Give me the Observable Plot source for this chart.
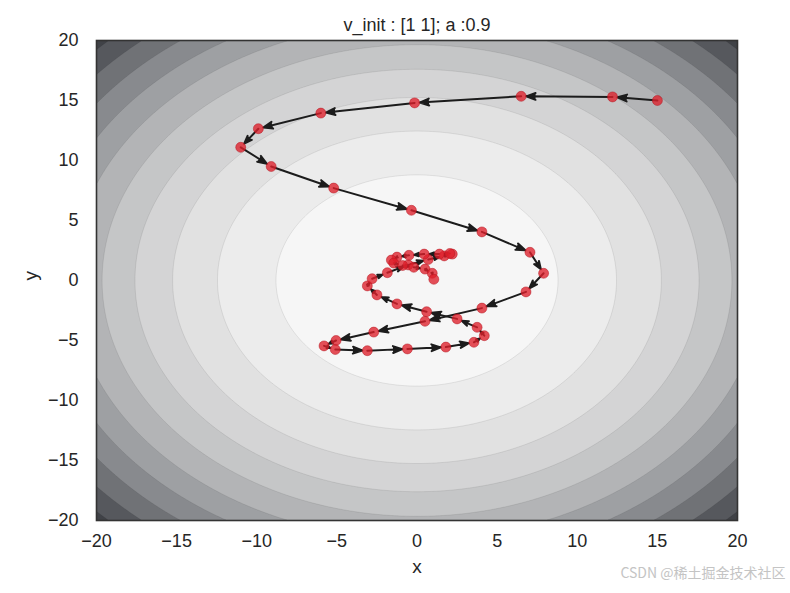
<!DOCTYPE html>
<html>
<head>
<meta charset="utf-8">
<script src="https://cdn.jsdelivr.net/npm/d3@7"></script>
<script src="https://cdn.jsdelivr.net/npm/@observablehq/plot@0.6"></script>
<style>
  body { margin: 0; background: #fff; }
</style>
</head>
<body>
<div id="chart"></div>
<script>
// ---- data ----
const title = "v_init : [1 1]; a :0.9";
const xLabel = "x";
const yLabel = "y";
const watermark = "CSDN @稀土掘金技术社区";
const xTicks = [-20, -15, -10, -5, 0, 5, 10, 15, 20];
const yTicks = [-20, -15, -10, -5, 0, 5, 10, 15, 20];

// trajectory of the iterates (in order)
const pathX = [15.0, 12.2, 6.5, -0.15, -6.0, -9.9, -11.0, -9.1, -5.2, -0.35, 4.05, 7.05, 7.9, 6.8, 4.05,
  0.5, -2.7, -5.05, -5.8, -5.1, -3.1, -0.6, 1.8, 3.55, 4.2, 3.75, 2.5, 0.6, -1.25, -2.5, -3.1, -2.8, -1.85,
  -0.55, 0.7, 1.7, 2.2, 2.05, 1.4, 0.45, -0.5, -1.25, -1.6, -1.45, -0.9, -0.2, 0.5, 0.95, 1.05];
const pathY = [15.0, 15.3, 15.35, 14.8, 13.95, 12.65, 11.1, 9.5, 7.7, 5.85, 4.05, 2.35, 0.6, -0.95, -2.3,
  -3.4, -4.3, -5.0, -5.45, -5.75, -5.85, -5.7, -5.55, -5.15, -4.6, -3.9, -3.2, -2.6, -1.95, -1.2, -0.45, 0.15, 0.65,
  1.3, 1.75, 2.05, 2.2, 2.25, 2.2, 2.2, 2.1, 1.95, 1.7, 1.45, 1.25, 1.1, 0.95, 0.6, 0.1];

// filled contour levels (distance from the origin of each band's inner edge) and band colours
const levelRadii = [0, 8.8, 12.45, 15.25, 17.6, 19.65, 21.55, 23.25, 24.85, 26.35, 27.75];
const bandColors = ["#f6f6f6", "#ececec", "#e1e1e1", "#d4d4d5", "#c5c6c7", "#b3b4b6",
  "#9ea0a3", "#888a8e", "#707276", "#56585d", "#404247"];

// ---- build tables ----
const pts = pathX.map((x, i) => ({x, y: pathY[i]}));
const segs = pts.slice(1).map((p, i) => ({x1: pts[i].x, y1: pts[i].y, x2: p.x, y2: p.y}));
const fmt = d => (d < 0 ? "\u2212" + (-d) : String(d));

const bandMarks = levelRadii.slice(1).map((r, i) =>
  Plot.contour(null, {
    x1: -20, y1: -20, x2: 20, y2: 20,
    value: (x, y) => Math.hypot(x, y),
    thresholds: [r],
    pixelSize: 1,
    fill: bandColors[i + 1],
    stroke: "#2a2a2a",
    strokeOpacity: 0.14,
    strokeWidth: 0.7
  })
);

const chart = Plot.plot({
  width: 790,
  height: 593,
  marginLeft: 96,
  marginRight: 53,
  marginTop: 40,
  marginBottom: 73,
  style: {
    fontFamily: '"Liberation Sans", Arial, sans-serif',
    fontSize: "18px",
    color: "#262626",
    background: "#ffffff",
    overflow: "visible"
  },
  x: {domain: [-20, 20], ticks: xTicks, tickSize: 0, tickPadding: 14, tickFormat: fmt, label: null},
  y: {domain: [-20, 20], ticks: yTicks, tickSize: 0, tickPadding: 18, tickFormat: fmt, label: null},
  marks: [
    Plot.frame({fill: bandColors[0]}),
    ...bandMarks,
    Plot.arrow(segs, {
      x1: "x1", y1: "y1", x2: "x2", y2: "y2",
      stroke: "#1c1c1c", fill: "#1c1c1c",
      strokeWidth: 2, headLength: 7.5, headAngle: 40, insetEnd: 5
    }),
    Plot.dot(pts, {x: "x", y: "y", r: 5, fill: "#de1f2a", fillOpacity: 0.78, stroke: "#b3141e", strokeWidth: 0.8, strokeOpacity: 0.6}),
    Plot.frame({stroke: "#333333", strokeWidth: 1.6}),
    Plot.text([title], {frameAnchor: "top", dy: -22, fontSize: 18, fill: "#262626"}),
    Plot.text([xLabel], {frameAnchor: "bottom", dy: 52, fontSize: 19, fill: "#262626"}),
    Plot.text([yLabel], {frameAnchor: "left", dx: -66, rotate: -90, fontSize: 19, fill: "#262626"}),
    Plot.text([watermark], {frameAnchor: "bottom-right", dx: 48, dy: 57, textAnchor: "end", fontSize: 14,
      fill: "#c4c4c4", fontFamily: '"Noto Sans CJK SC", sans-serif'})
  ]
});
document.getElementById("chart").appendChild(chart);
</script>
</body>
</html>
